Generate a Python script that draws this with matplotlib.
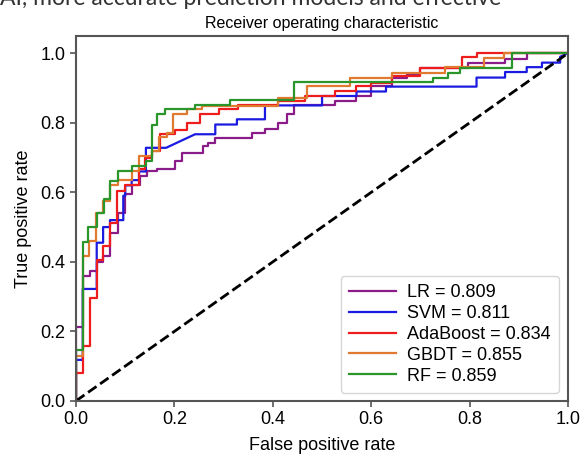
import matplotlib
matplotlib.use("Agg")
from matplotlib import pyplot as plt

plt.rcParams['font.family'] = ['Liberation Sans', 'DejaVu Sans']

# ROC corner points (fpr, tpr)
lr_fpr = [0, 0, 0.0136, 0.0136, 0.028, 0.028, 0.042, 0.042, 0.055, 0.055, 0.069, 0.069, 0.086, 0.086, 0.1, 0.1,
          0.113, 0.113, 0.13, 0.13, 0.144, 0.144, 0.164, 0.164, 0.201, 0.201, 0.215, 0.215, 0.259, 0.259, 0.269, 0.269,
          0.283, 0.283, 0.357, 0.357, 0.384, 0.384, 0.411, 0.411, 0.428, 0.428, 0.442, 0.442, 0.526, 0.526, 0.57, 0.57,
          0.6, 0.6, 0.642, 0.642, 0.672, 0.672, 0.699, 0.699, 0.797, 0.797, 0.872, 0.872, 0.916, 0.916, 1.0]
lr_tpr = [0, 0.212, 0.212, 0.36, 0.36, 0.375, 0.375, 0.40, 0.40, 0.416, 0.416, 0.483, 0.483, 0.541, 0.541, 0.594,
          0.594, 0.622, 0.622, 0.646, 0.646, 0.661, 0.661, 0.666, 0.666, 0.69, 0.69, 0.714, 0.714, 0.733, 0.733, 0.743,
          0.743, 0.757, 0.757, 0.771, 0.771, 0.781, 0.781, 0.80, 0.80, 0.824, 0.824, 0.85, 0.85, 0.863, 0.863, 0.877,
          0.877, 0.906, 0.906, 0.93, 0.93, 0.94, 0.94, 0.959, 0.959, 0.971, 0.971, 0.983, 0.983, 1.0, 1.0]

svm_fpr = [0, 0, 0.0136, 0.0136, 0.042, 0.042, 0.055, 0.055, 0.069, 0.069, 0.096, 0.096, 0.1, 0.1, 0.113, 0.113,
           0.128, 0.128, 0.142, 0.142, 0.183, 0.242, 0.283, 0.283, 0.327, 0.327, 0.384, 0.384, 0.5, 0.5, 0.57, 0.57,
           0.63, 0.63, 0.814, 0.814, 0.872, 0.872, 0.916, 0.916, 0.947, 0.947, 0.984, 0.984, 1.0]
svm_tpr = [0, 0.118, 0.118, 0.322, 0.322, 0.455, 0.455, 0.50, 0.50, 0.52, 0.52, 0.59, 0.59, 0.62, 0.62, 0.635,
           0.635, 0.66, 0.66, 0.728, 0.728, 0.767, 0.767, 0.795, 0.795, 0.81, 0.81, 0.85, 0.85, 0.877, 0.877, 0.89,
           0.89, 0.904, 0.904, 0.93, 0.93, 0.946, 0.946, 0.96, 0.96, 0.973, 0.973, 0.99, 1.0]

ada_fpr = [0, 0, 0.0136, 0.0136, 0.028, 0.028, 0.042, 0.042, 0.055, 0.055, 0.069, 0.069, 0.083, 0.083, 0.1, 0.1,
           0.127, 0.127, 0.14, 0.14, 0.155, 0.155, 0.171, 0.171, 0.201, 0.201, 0.225, 0.225, 0.252, 0.252, 0.29, 0.29,
           0.33, 0.33, 0.41, 0.41, 0.465, 0.465, 0.526, 0.526, 0.57, 0.57, 0.6, 0.6, 0.642, 0.642, 0.699, 0.699,
           0.784, 0.784, 0.814, 0.814, 1.0]
ada_tpr = [0, 0.08, 0.08, 0.158, 0.158, 0.296, 0.296, 0.406, 0.406, 0.445, 0.445, 0.512, 0.512, 0.603, 0.603, 0.62,
           0.62, 0.666, 0.666, 0.70, 0.70, 0.72, 0.72, 0.769, 0.769, 0.78, 0.78, 0.80, 0.80, 0.825, 0.825, 0.839,
           0.839, 0.85, 0.85, 0.862, 0.862, 0.877, 0.877, 0.891, 0.891, 0.906, 0.906, 0.915, 0.915, 0.935, 0.935, 0.959,
           0.959, 0.988, 0.988, 1.0, 1.0]

gbdt_fpr = [0, 0, 0.014, 0.014, 0.027, 0.027, 0.04, 0.04, 0.055, 0.055, 0.069, 0.069, 0.086, 0.086, 0.113, 0.113,
            0.128, 0.128, 0.155, 0.155, 0.169, 0.169, 0.184, 0.184, 0.198, 0.198, 0.225, 0.225, 0.255, 0.255, 0.41, 0.41,
            0.469, 0.469, 0.557, 0.557, 0.642, 0.642, 0.75, 0.75, 0.83, 0.83, 0.87, 0.87, 1.0]
gbdt_tpr = [0, 0.13, 0.13, 0.416, 0.416, 0.46, 0.46, 0.54, 0.54, 0.574, 0.574, 0.62, 0.62, 0.635, 0.635, 0.66,
            0.66, 0.704, 0.704, 0.72, 0.72, 0.758, 0.758, 0.771, 0.771, 0.824, 0.824, 0.839, 0.839, 0.848, 0.848, 0.872,
            0.872, 0.906, 0.906, 0.93, 0.93, 0.944, 0.944, 0.96, 0.96, 0.985, 0.985, 1.0, 1.0]

rf_fpr = [0, 0, 0.014, 0.014, 0.025, 0.025, 0.042, 0.042, 0.057, 0.057, 0.069, 0.069, 0.086, 0.086, 0.113, 0.113,
          0.142, 0.142, 0.154, 0.154, 0.165, 0.165, 0.18, 0.18, 0.242, 0.242, 0.313, 0.313, 0.442, 0.442, 0.726, 0.726,
          0.756, 0.756, 0.78, 0.78, 0.886, 0.886, 1.0]
rf_tpr = [0, 0.147, 0.147, 0.456, 0.456, 0.50, 0.50, 0.54, 0.54, 0.58, 0.58, 0.632, 0.632, 0.661, 0.661, 0.675,
          0.675, 0.69, 0.69, 0.795, 0.795, 0.824, 0.824, 0.839, 0.839, 0.85, 0.85, 0.865, 0.865, 0.917, 0.917, 0.93,
          0.93, 0.944, 0.944, 0.959, 0.959, 1.0, 1.0]

model_names = ['LR', 'SVM', 'AdaBoost', 'GBDT', 'RF']
model_auc = [0.809, 0.811, 0.834, 0.855, 0.859]
model_colors = ['#8a1c8a', '#1a1ae0', '#ee1c1c', '#e07a30', '#2a952a']
curves = [(lr_fpr, lr_tpr), (svm_fpr, svm_tpr), (ada_fpr, ada_tpr), (gbdt_fpr, gbdt_tpr), (rf_fpr, rf_tpr)]

fig = plt.figure(figsize=(5.85, 4.54), dpi=100)
ax = fig.add_axes([0.130, 0.117, 0.841, 0.804])

for (fpr, tpr), name, auc, col in zip(curves, model_names, model_auc, model_colors):
    ax.plot(fpr, tpr, color=col, lw=1.6, label='{0} = {1:.3f}'.format(name, auc))

ax.plot([0, 1], [0, 1], 'k--', lw=2)

##--Plot formatting--##
ax.set_xlim(0, 1.0)
ax.set_ylim(0, 1.05)
ax.set_xticks([0, 0.2, 0.4, 0.6, 0.8, 1.0])
ax.set_yticks([0, 0.2, 0.4, 0.6, 0.8, 1.0])
ax.tick_params(labelsize=13, color='#555555', length=4, width=1.2)
for sp in ax.spines.values():
    sp.set_color('#555555')
    sp.set_linewidth(1.5)
ax.set_xlabel('False positive rate', fontsize=13, labelpad=6)
ax.set_ylabel('True positive rate', fontsize=13, labelpad=6)
ax.set_title('Receiver operating characteristic', fontsize=11.5, pad=6)
ax.legend(loc='lower right', fontsize=13, handlelength=2.6, labelspacing=0.22, handletextpad=0.6,
          borderpad=0.45, edgecolor='#cccccc', bbox_to_anchor=(0.988, 0.012), borderaxespad=0.2)
##--End of plot formatting--##

# cropped line of page text above the figure
fig.text(0.0, 1.004, 'AI, more accurate prediction models and effective', fontsize=16.5,
         family=['Lato', 'DejaVu Sans'], va='center', ha='left', color='#333333')

fig.savefig('out.png', dpi=100)
